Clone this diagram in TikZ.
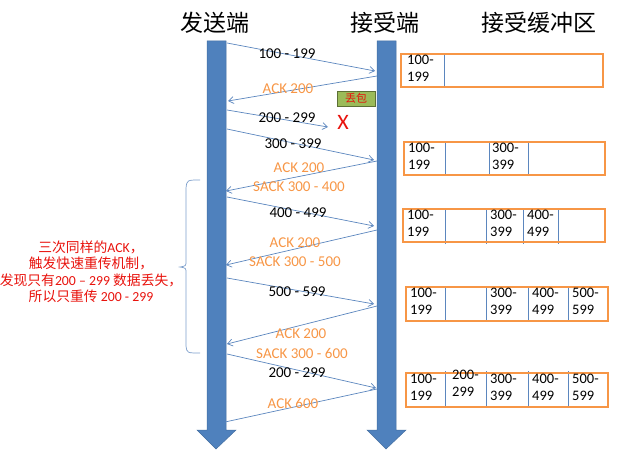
\documentclass[tikz,border=0pt]{standalone}
\usepackage{fontspec}
\setmainfont{Carlito}
\newfontfamily\cjk{Noto Sans CJK SC}
\usetikzlibrary{arrows.meta,positioning}
\definecolor{barblue}{HTML}{4F81BD}
\definecolor{lineblue}{HTML}{5B86BE}
\definecolor{ackorange}{HTML}{F79646}
\definecolor{lossgreen}{HTML}{9BBB59}
\definecolor{lossred}{HTML}{E8120C}

\begin{document}
\begin{tikzpicture}[x=1pt,y=-1pt,
  bar/.style={fill=barblue,draw=barblue!85!black,line width=0.5pt},
  msg/.style={-{Straight Barb[length=5pt,width=7pt]},draw=lineblue,line width=0.7pt},
  seg/.style={font=\fontsize{15}{16}\selectfont,inner sep=0pt},
  ack/.style={seg,text=ackorange},
  title/.style={font=\cjk\fontsize{23}{24}\selectfont,inner sep=0pt},
  buf/.style={draw=ackorange,line width=2pt},
  sep/.style={draw=lineblue,line width=0.6pt},
  cell/.style={font=\fontsize{14.5}{16.5}\selectfont,align=left,inner sep=0pt,anchor=north west}]
\useasboundingbox (0,0) rectangle (621,460);

% sender / receiver time lines
\filldraw[bar] (207,41) -- (226,41) -- (226,430) -- (236,430) -- (216,449)
  -- (197,430) -- (207,430) -- cycle;
\filldraw[bar] (377,41) -- (396,41) -- (396,430) -- (406,430) -- (386,449)
  -- (367,430) -- (377,430) -- cycle;
\node[title] (snd) at (215,23) {发送端};
\node[title] (rcv) at (385,23) {接受端};
\node[title] (buftitle) at (539,23) {接受缓冲区};

% end points on the two bars
\coordinate (s1) at (227,43);  \coordinate (r1) at (375,71);
\coordinate (r2) at (377,76);  \coordinate (s2) at (228,101);
\coordinate (s3) at (227,110); \coordinate (x3) at (328,127);
\coordinate (s4) at (227,129); \coordinate (r4) at (374,160);
\coordinate (r5) at (377,161); \coordinate (s5) at (226,191);
\coordinate (s6) at (227,197); \coordinate (r6) at (374,226);
\coordinate (r7) at (377,230); \coordinate (s7) at (226,265);
\coordinate (s8) at (227,278); \coordinate (r8) at (374,304);
\coordinate (r9) at (377,306); \coordinate (s9) at (227,344);
\coordinate (s10) at (227,354); \coordinate (r10) at (376,388);
\coordinate (r11) at (377,389); \coordinate (s11) at (225,422);

\draw[msg] (s1) -- (r1);
\draw[msg] (r2) -- (s2);
\draw[msg] (s3) -- (x3);
\draw[msg] (s4) -- (r4);
\draw[msg] (r5) -- (s5);
\draw[msg] (s6) -- (r6);
\draw[msg] (r7) -- (s7);
\draw[msg] (s8) -- (r8);
\draw[msg] (r9) -- (s9);
\draw[msg] (s10) -- (r10);
\draw[draw=lineblue,line width=0.7pt] (r11) -- (s11);

\node[seg] (m1) at (287,54) {100 - 199};
\node[ack] (a1) at (288,89) {ACK 200};
\node[seg] (m2) at (287,118) {200 - 299};
\node[seg] (m3) at (293,144) {300 - 399};
\node[ack] (a2) at (299,168) {ACK 200};
\node[ack] (sa2) at (299,187) {SACK 300 - 400};
\node[seg] (m4) at (298,213) {400 - 499};
\node[ack] (a3) at (295,243) {ACK 200};
\node[ack] (sa3) at (295,262) {SACK 300 - 500};
\node[seg] (m5) at (297,292) {500 - 599};
\node[ack] (a4) at (301,334) {ACK 200};
\node[ack] (sa4) at (302,353) {SACK 300 - 600};
\node[seg] (m6) at (297,373) {200 - 299};
\node[ack] (a5) at (293,403) {ACK 600};

% lost segment
\node[draw=lossgreen!60!black,fill=lossgreen,minimum width=38pt,minimum height=15pt,
      inner sep=0pt,text=lossred,font=\cjk\fontsize{11}{12}\selectfont] (loss) at (356,98.5) {丢包};
\node[text=lossred,font=\fontsize{22}{22}\selectfont,inner sep=0pt] (lost) at (343,122) {X};

% fast retransmit note
\draw[draw=lineblue!80,line width=0.7pt] (200,180) .. controls (187,180) .. (186,188)
  -- (186,261) .. controls (186,266) .. (180,267) .. controls (186,268) .. (186,273)
  -- (186,346) .. controls (187,353) .. (200,353);
\node[text=lossred,font=\fontsize{13.8}{16.5}\selectfont,align=center,inner sep=0pt] (note) at (91,272)
  {{\cjk 三次同样的}ACK{\cjk ，}\\
   {\cjk 触发快速重传机制，}\\
   {\cjk 发现只有}200 -- 299 {\cjk 数据丢失，}\\
   {\cjk 所以只重传} 200 - 299};

% receive buffers
\foreach \x in {444} \draw[sep] (\x,54) -- (\x,88);
\draw[buf] (401,54) rectangle (603,87);
\node[cell] (b1a) at (407,55) {100-\\199};

\foreach \x in {445,489,528} \draw[sep] (\x,142) -- (\x,176);
\draw[buf] (404,142) rectangle (605,175);
\node[cell] (b2a) at (408,143) {100-\\199};
\node[cell] (b2c) at (492,143) {300-\\399};

\foreach \x in {445,486,523,558} \draw[sep] (\x,209) -- (\x,244);
\draw[buf] (403,209) rectangle (605,242);
\node[cell] (b3a) at (407,210) {100-\\199};
\node[cell] (b3c) at (490,210) {300-\\399};
\node[cell] (b3d) at (527,210) {400-\\499};

\foreach \x in {445,486,528,568} \draw[sep] (\x,287) -- (\x,321);
\draw[buf] (406,287) rectangle (608,321);
\node[cell] (b4a) at (410,288) {100-\\199};
\node[cell] (b4c) at (490,288) {300-\\399};
\node[cell] (b4d) at (532,288) {400-\\499};
\node[cell] (b4e) at (572,288) {500-\\599};

\foreach \x in {445,486,528,568} \draw[sep] (\x,371) -- (\x,407);
\draw[buf] (406,373) rectangle (608,407);
\node[cell] (b5a) at (410,374) {100-\\199};
\node[cell] (b5b) at (452,370) {200-\\299};
\node[cell] (b5c) at (490,374) {300-\\399};
\node[cell] (b5d) at (532,374) {400-\\499};
\node[cell] (b5e) at (572,374) {500-\\599};
\end{tikzpicture}
\end{document}
